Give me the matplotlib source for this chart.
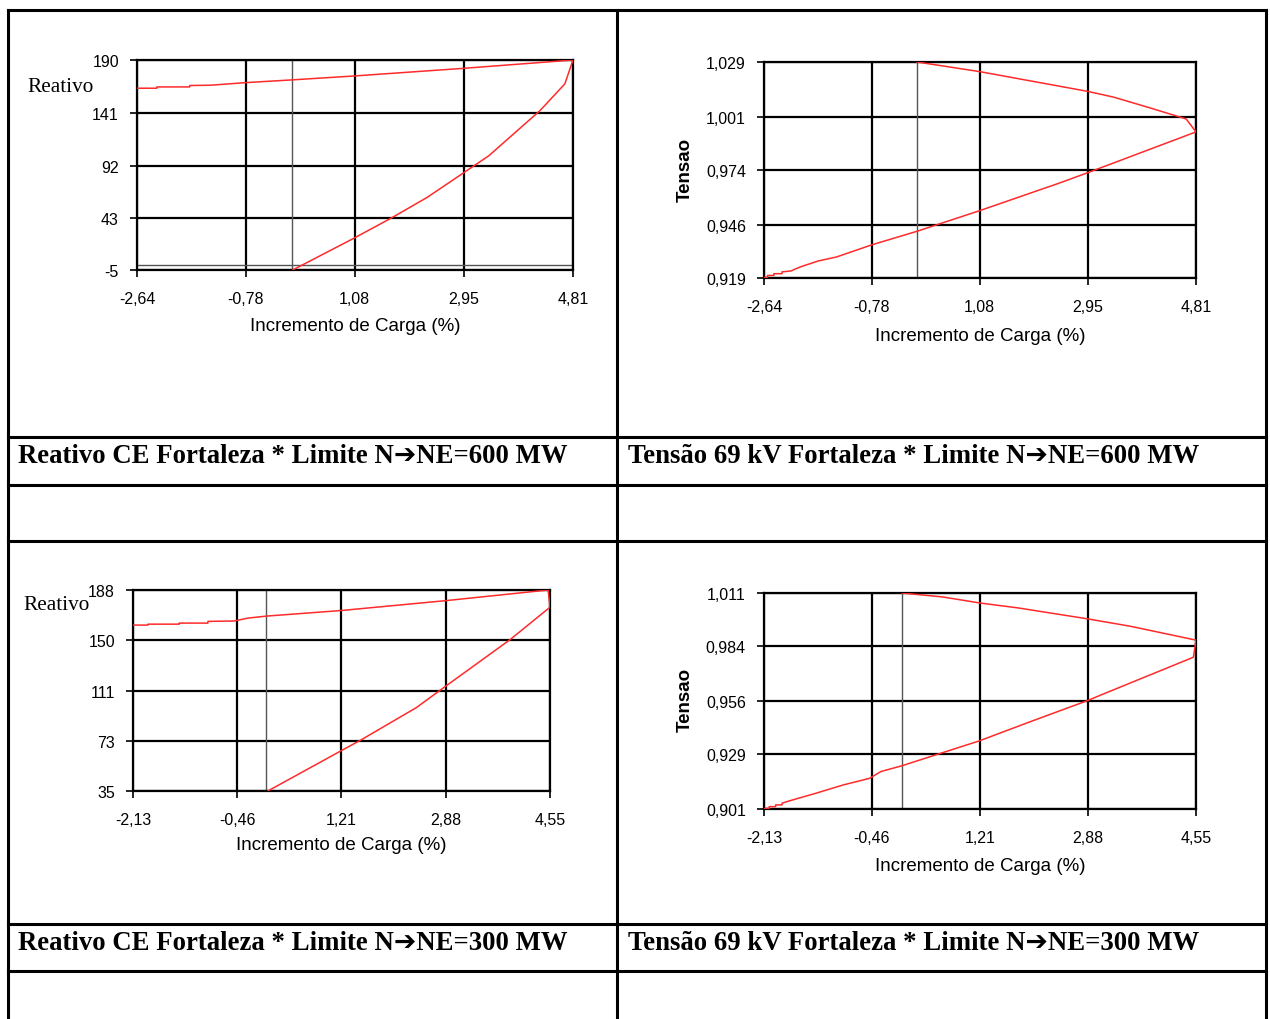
import matplotlib
matplotlib.use("Agg")
import matplotlib.pyplot as plt
from matplotlib.lines import Line2D

W, H = 1270, 1020

# ---------------- data ----------------
# Chart 1: Reativo, limite 600 MW
x_reat600 = [-2.64, -2.30, -2.30, -1.74, -1.74, -1.38, -0.78, 0.00, 1.08, 2.95, 4.81,
             4.67, 4.25, 3.37, 2.95, 2.32, 1.73, 1.08, 0.02]
y_reat600 = [163.8, 163.8, 165.0, 165.0, 166.3, 166.6, 169.0, 171.5, 175.2, 182.3, 190.0,
             167.8, 143.2, 101.0, 85.6, 62.5, 44.0, 24.9, -5.0]
xt_600 = [-2.64, -0.78, 1.08, 2.95, 4.81]
xl_600 = ["-2,64", "-0,78", "1,08", "2,95", "4,81"]
yt_reat600 = [-5, 43, 92, 141, 190]
yl_reat600 = ["-5", "43", "92", "141", "190"]

# Chart 2: Tensao, limite 600 MW
x_tens600 = [-2.64, -2.58, -2.58, -2.47, -2.47, -2.33, -2.33, -2.17, -2.10, -1.99, -1.70,
             -1.39, -0.78, 0.00, 1.08, 2.44, 2.95, 4.81,
             4.64, 4.02, 3.39, 2.95, 1.08, 0.00]
y_tens600 = [0.9193, 0.9193, 0.9203, 0.9203, 0.9212, 0.9212, 0.9221, 0.9226, 0.9236, 0.9249, 0.9277,
             0.9297, 0.9359, 0.9428, 0.9533, 0.9672, 0.9727, 0.9934,
             1.0000, 1.0056, 1.0111, 1.0140, 1.0241, 1.0290]
yt_tens600 = [0.919, 0.946, 0.974, 1.001, 1.029]
yl_tens600 = ["0,919", "0,946", "0,974", "1,001", "1,029"]

# Chart 3: Reativo, limite 300 MW
x_reat300 = [-2.13, -1.89, -1.89, -1.39, -1.39, -0.93, -0.93, -0.51, -0.29, 0.00, 1.21, 2.88, 4.52,
             4.55, 3.91, 2.83, 2.41, 1.52, 1.21, 0.03]
y_reat300 = [161.3, 161.3, 162.0, 162.0, 162.8, 162.8, 164.1, 164.4, 166.6, 168.1, 172.4, 179.9, 188.0,
             174.9, 150.2, 113.1, 98.5, 73.8, 65.8, 35.0]
xt_300 = [-2.13, -0.46, 1.21, 2.88, 4.55]
xl_300 = ["-2,13", "-0,46", "1,21", "2,88", "4,55"]
yt_reat300 = [35, 73, 111, 150, 188]
yl_reat300 = ["35", "73", "111", "150", "188"]

# Chart 4: Tensao, limite 300 MW
x_tens300 = [-2.13, -2.05, -2.05, -1.95, -1.95, -1.85, -1.85, -1.70, -1.32, -0.91, -0.50, -0.32, 0.00,
             1.20, 1.95, 2.88, 3.09, 4.51, 4.55,
             3.53, 2.88, 1.80, 1.21, 0.63, 0.00]
y_tens300 = [0.9013, 0.9013, 0.9022, 0.9022, 0.9031, 0.9031, 0.9040, 0.9055, 0.9091, 0.9132, 0.9166, 0.9201, 0.9230,
             0.9357, 0.9450, 0.9563, 0.9592, 0.9783, 0.9870,
             0.9941, 0.9978, 1.0034, 1.0059, 1.0090, 1.0110]
yt_tens300 = [0.901, 0.929, 0.956, 0.984, 1.011]
yl_tens300 = ["0,901", "0,929", "0,956", "0,984", "1,011"]

xlabel = "Incremento de Carga (%)"
captions = ["Reativo CE Fortaleza * Limite N\u2794NE=600 MW",
            "Tens\u00e3o 69 kV Fortaleza * Limite N\u2794NE=600 MW",
            "Reativo CE Fortaleza * Limite N\u2794NE=300 MW",
            "Tens\u00e3o 69 kV Fortaleza * Limite N\u2794NE=300 MW"]

# ---------------- figure ----------------
fig = plt.figure(figsize=(W / 100, H / 100), dpi=100)
fig.patch.set_facecolor("white")


def fx(px):
    return px / W


def fy(py):
    return 1 - py / H


def hline(y, x0, x1, lw=2.2):
    fig.add_artist(Line2D([fx(x0), fx(x1)], [fy(y), fy(y)], color="black", lw=lw,
                          transform=fig.transFigure, solid_capstyle="projecting"))


def vline(x, y0, y1, lw=2.2):
    fig.add_artist(Line2D([fx(x), fx(x)], [fy(y0), fy(y1)], color="black", lw=lw,
                          transform=fig.transFigure, solid_capstyle="projecting"))


# table borders
hline(11, 8, 1266)
for yy in [438, 486, 542, 925, 972]:
    hline(yy, 8, 1266)
vline(8, 11, 1025)
vline(617, 11, 1025)
vline(1266, 11, 1025)

sans = ["Liberation Sans", "DejaVu Sans"]
serif = ["Liberation Serif", "DejaVu Sans"]


def make_chart(box, x, y, xt, xl, yt, yl, xlab_y, zero_y=False):
    l, t, r, b = box
    ax = fig.add_axes([fx(l), fy(b), (r - l) / W, (b - t) / H])
    ax.set_xlim(xt[0], xt[-1])
    ax.set_ylim(yt[0], yt[-1])
    ax.set_xticks(xt)
    ax.set_xticklabels(xl, family=sans, fontsize=11.5)
    ax.set_yticks(yt)
    ax.set_yticklabels(yl, family=sans, fontsize=11.5)
    ax.grid(True, color="black", lw=1.6)
    ax.set_axisbelow(True)
    for s in ax.spines.values():
        s.set_color("black")
        s.set_linewidth(1.6)
    ax.tick_params(axis="x", direction="out", length=5, width=1.2, pad=10)
    ax.tick_params(axis="y", direction="out", length=5, width=1.2, pad=8)
    ax.axvline(0, color="#555555", lw=1.0, zorder=2)
    if zero_y:
        ax.axhline(0, color="#555555", lw=1.0, zorder=2)
    ax.plot(x, y, color="#ff2a2a", lw=1.1, zorder=3)
    fig.text(fx((l + r) / 2), fy(xlab_y), xlabel, family=sans, fontsize=13.5,
             ha="center", va="center")
    return ax


make_chart((137, 61, 573, 271), x_reat600, y_reat600, xt_600, xl_600,
           yt_reat600, yl_reat600, 327, zero_y=True)
fig.text(fx(27), fy(87), "Reativo", family=serif, fontsize=15.3, ha="left", va="center")

make_chart((764, 63, 1196, 279), x_tens600, y_tens600, xt_600, xl_600,
           yt_tens600, yl_tens600, 337)
fig.text(fx(685), fy(170), "Tensao", family=sans, fontsize=13.5, fontweight="bold",
         rotation=90, ha="center", va="center")

make_chart((133, 591, 550, 792), x_reat300, y_reat300, xt_300, xl_300,
           yt_reat300, yl_reat300, 845)
fig.text(fx(23), fy(606), "Reativo", family=serif, fontsize=15.3, ha="left", va="center")

make_chart((764, 594, 1196, 810), x_tens300, y_tens300, xt_300, xl_300,
           yt_tens300, yl_tens300, 867)
fig.text(fx(685), fy(700), "Tensao", family=sans, fontsize=13.5, fontweight="bold",
         rotation=90, ha="center", va="center")

# captions
cap_pos = [(18, 457), (628, 457), (18, 943), (628, 943)]
for (cx, cy), txt in zip(cap_pos, captions):
    fig.text(fx(cx), fy(cy), txt, family=serif, fontsize=19.3, fontweight="bold",
             ha="left", va="center")

fig.savefig("out.png", dpi=100, facecolor="white")
